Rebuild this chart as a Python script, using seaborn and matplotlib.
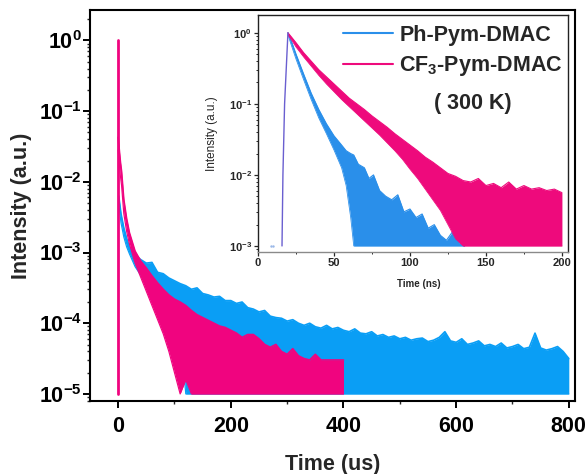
import numpy as np
import pandas as pd
import matplotlib
matplotlib.use("Agg")
import matplotlib.pyplot as plt
import seaborn as sns
from matplotlib.ticker import LogLocator, MultipleLocator, LogFormatterMathtext, NullFormatter

# ---------------- data (log10 intensity) ----------------
series_names = ["Ph-Pym-DMAC", "CF$_3$-Pym-DMAC"]

# main panel, time in us
blue_main_t = [1, 5, 10, 15, 20, 30, 40, 50, 60, 70, 80, 90, 100, 110, 120, 130, 140, 150,
               160, 170, 180, 190, 200, 210, 220, 230, 240, 250, 260, 270, 280, 290, 300,
               310, 320, 330, 340, 350, 360, 370, 380, 390, 400, 410, 420, 430, 440, 450,
               460, 470, 480, 490, 500, 510, 520, 530, 540, 550, 560, 570, 580, 590, 600,
               610, 620, 630, 640, 650, 660, 670, 680, 690, 700, 710, 720, 730, 740, 750,
               760, 770, 780, 790, 800]
blue_main_hi = [-2.20, -2.45, -2.65, -2.80, -2.92, -3.03, -3.10, -3.15, -3.14, -3.28, -3.30,
                -3.36, -3.40, -3.44, -3.47, -3.52, -3.50, -3.58, -3.60, -3.63, -3.62, -3.68,
                -3.68, -3.72, -3.70, -3.78, -3.80, -3.84, -3.82, -3.90, -3.92, -3.93, -3.97,
                -3.95, -4.00, -4.03, -4.00, -4.05, -4.07, -4.03, -4.08, -4.06, -4.10, -4.12,
                -4.08, -4.14, -4.15, -4.12, -4.18, -4.16, -4.20, -4.18, -4.22, -4.20, -4.24,
                -4.22, -4.21, -4.26, -4.24, -4.20, -4.12, -4.25, -4.27, -4.22, -4.30, -4.28,
                -4.25, -4.32, -4.30, -4.33, -4.28, -4.35, -4.33, -4.30, -4.36, -4.34, -4.14,
                -4.35, -4.38, -4.36, -4.33, -4.40, -4.50]
blue_main_lo = [-2.30, -2.58, -2.78, -2.92, -3.02, -3.20, -3.32, -3.45, -3.55, -3.65, -3.75,
                -3.85, -3.95, -4.10] + [-5.0] * 69

pink_main_t = [0, 2, 4, 6, 8, 10, 15, 20, 30, 40, 50, 60, 70, 80, 90, 100, 110, 120, 130,
               140, 150, 160, 170, 180, 190, 200, 210, 220, 230, 240, 250, 260, 270, 280,
               290, 300, 310, 320, 330, 340, 350, 360, 370, 380, 390, 400]
pink_main_hi = [-1.37, -1.55, -1.72, -1.85, -2.05, -2.25, -2.52, -2.72, -2.98, -3.12, -3.22,
                -3.33, -3.43, -3.52, -3.60, -3.66, -3.70, -3.75, -3.82, -3.88, -3.92, -3.96,
                -4.00, -4.04, -4.06, -4.10, -4.14, -4.20, -4.16, -4.16, -4.22, -4.30, -4.34,
                -4.30, -4.40, -4.44, -4.36, -4.46, -4.50, -4.52, -4.44, -4.52, -4.52, -4.52,
                -4.52, -4.52]
pink_main_lo = [-1.55, -1.75, -1.92, -2.05, -2.25, -2.45, -2.70, -2.88, -3.15, -3.35, -3.55,
                -3.75, -3.95, -4.15, -4.40, -4.70, -5.0, -4.80] + [-5.0] * 28
pink_spike_t = [0, 0]
pink_spike_v = [-5.0, 0.0]

# inset, time in ns
rise_t = [15.8, 16.4, 17.5, 19.7]
rise_v = [-3.0, -2.0, -1.0, 0.0]

blue_in_t = [19.7, 22, 25, 30, 35, 40, 45, 50, 55, 58, 61, 63, 66, 70, 73, 76, 80, 84, 88,
             92, 96, 100, 104, 108, 112, 116, 120, 124, 128, 132, 136]
blue_in_hi = [0.0, -0.12, -0.30, -0.58, -0.85, -1.08, -1.28, -1.45, -1.58, -1.66, -1.70,
              -1.72, -1.85, -1.90, -2.05, -2.00, -2.22, -2.30, -2.35, -2.28, -2.52, -2.48,
              -2.60, -2.55, -2.75, -2.70, -2.85, -2.92, -2.80, -2.95, -3.0]
blue_in_lo = [-0.03, -0.18, -0.37, -0.66, -0.94, -1.20, -1.42, -1.65, -1.90, -2.15, -2.60,
              -3.0] + [-3.0] * 19

pink_in_t = [19.7, 22, 25, 30, 35, 40, 45, 50, 55, 60, 65, 70, 75, 80, 85, 90, 95, 100, 105,
             110, 115, 120, 125, 130, 135, 140, 145, 150, 155, 160, 165, 170, 175, 180, 185,
             190, 195, 200]
pink_in_hi = [0.0, -0.06, -0.14, -0.28, -0.40, -0.52, -0.62, -0.72, -0.82, -0.92, -1.00,
              -1.08, -1.17, -1.25, -1.33, -1.42, -1.50, -1.58, -1.66, -1.75, -1.82, -1.90,
              -1.98, -2.02, -2.08, -2.10, -2.05, -2.15, -2.12, -2.18, -2.10, -2.20, -2.15,
              -2.20, -2.18, -2.22, -2.20, -2.25]
pink_in_lo = [-0.03, -0.10, -0.20, -0.34, -0.47, -0.60, -0.72, -0.83, -0.94, -1.04, -1.14,
              -1.24, -1.34, -1.44, -1.55, -1.66, -1.78, -1.92, -2.05, -2.20, -2.35, -2.50,
              -2.70, -2.90] + [-3.0] * 14
dots_t = [8.5, 10.0]
dots_v = [-3.0, -3.0]

# ---------------- style ----------------
sns.set_style("ticks")
plt.rcParams['font.family'] = ['Liberation Sans', 'DejaVu Sans']
plt.rcParams['font.weight'] = 'bold'
plt.rcParams['axes.labelweight'] = 'bold'
plt.rcParams['mathtext.fontset'] = 'custom'
plt.rcParams['mathtext.rm'] = 'Liberation Sans:bold'
plt.rcParams['mathtext.bf'] = 'Liberation Sans:bold'
plt.rcParams['mathtext.it'] = 'Liberation Sans:bold'
plt.rcParams['mathtext.sf'] = 'Liberation Sans:bold'

BLUE = '#0A9EF5'
PINK = '#F0047F'
BLUE_IN = '#2A8FEA'
PINK_IN = '#EE0A7C'

fig = plt.figure(figsize=(5.88, 4.74), dpi=100)
W, H = 588, 474
ax = fig.add_axes([90 / W, 1 - 401 / H, 485 / W, 391 / H])
axi = fig.add_axes([258 / W, 1 - 252 / H, 310 / W, 237 / H])


def tv(v):
    return np.power(10.0, np.asarray(v, dtype=float))


def draw(a, t, hi, lo, color, lw, z, label=None):
    a.fill_between(t, tv(lo), tv(hi), color=color, lw=0, zorder=z)
    sns.lineplot(x=t, y=tv(hi), ax=a, color=color, lw=lw, estimator=None, sort=False,
                 label=label, legend=bool(label), zorder=z + 0.1)
    sns.lineplot(x=t, y=tv(lo), ax=a, color=color, lw=lw * 0.7, estimator=None, sort=False,
                 legend=False, zorder=z + 0.1)


# main panel
draw(ax, blue_main_t, blue_main_hi, blue_main_lo, BLUE, 1.2, 1.0)
draw(ax, pink_main_t, pink_main_hi, pink_main_lo, PINK, 1.2, 1.5)
sns.lineplot(x=pink_spike_t, y=tv(pink_spike_v), ax=ax, color=PINK, lw=2.0, estimator=None,
             sort=False, legend=False, zorder=1.8)

ax.set_yscale('log')
ax.set_xlim(-50, 811)
ax.set_ylim(10 ** -5.1, 10 ** 0.43)
ax.xaxis.set_major_locator(MultipleLocator(200))
ax.xaxis.set_minor_locator(MultipleLocator(100))
ax.yaxis.set_major_locator(LogLocator(base=10, numticks=12))
ax.yaxis.set_minor_locator(LogLocator(base=10, subs=np.arange(2, 10), numticks=12))
ax.yaxis.set_major_formatter(LogFormatterMathtext())
ax.yaxis.set_minor_formatter(NullFormatter())
ax.tick_params(which='major', direction='out', length=5, width=1.4, labelsize=15.5, pad=1,
               colors='black')
ax.tick_params(which='minor', direction='out', length=2.5, width=1.0)
ax.tick_params(axis='x', which='major', pad=6)
for s in ax.spines.values():
    s.set_visible(True)
    s.set_linewidth(1.5)
    s.set_color('black')
ax.set_xlabel('Time (us)', fontsize=15.5, fontweight='bold')
ax.set_ylabel('Intensity (a.u.)', fontsize=15.5, fontweight='bold')
ax.xaxis.set_label_coords(0.5, -0.135)
ax.yaxis.set_label_coords(-0.12, 0.5)

# inset
draw(axi, blue_in_t, blue_in_hi, blue_in_lo, BLUE_IN, 0.8, 1.0, label=series_names[0])
draw(axi, pink_in_t, pink_in_hi, pink_in_lo, PINK_IN, 0.8, 1.5, label=series_names[1])
sns.lineplot(x=rise_t, y=tv(rise_v), ax=axi, color='#6A5FD0', lw=1.0, estimator=None,
             sort=False, legend=False, zorder=1.8)
sns.scatterplot(x=dots_t, y=tv(dots_v), ax=axi, color='#9AB8E8', s=3, linewidth=0,
                legend=False, zorder=1.8)

axi.set_yscale('log')
axi.set_xlim(0, 204)
axi.set_ylim(10 ** -3.085, 10 ** 0.25)
axi.xaxis.set_major_locator(MultipleLocator(50))
axi.xaxis.set_minor_locator(MultipleLocator(25))
axi.yaxis.set_major_locator(LogLocator(base=10, numticks=8))
axi.yaxis.set_minor_locator(LogLocator(base=10, subs=np.arange(2, 10), numticks=8))
axi.yaxis.set_major_formatter(LogFormatterMathtext())
axi.yaxis.set_minor_formatter(NullFormatter())
axi.tick_params(which='major', direction='out', length=3, width=0.9, labelsize=8, pad=1.5)
axi.tick_params(which='minor', direction='out', length=1.6, width=0.7)
for s in axi.spines.values():
    s.set_visible(True)
    s.set_linewidth(1.0)
    s.set_color('#222222')
axi.spines['bottom'].set_color('#8A8A8A')
axi.set_xlabel('Time (ns)', fontsize=7, fontweight='bold')
axi.set_ylabel('Intensity (a.u.)', fontsize=8.5, fontweight='normal')
axi.xaxis.set_label_coords(0.52, -0.115)
axi.yaxis.set_label_coords(-0.128, 0.5)

leg = axi.legend(loc='upper left', bbox_to_anchor=(343 / W, 1 - 25 / H),
                 bbox_transform=fig.transFigure, frameon=False, fontsize=15.5,
                 handlelength=2.3, handletextpad=0.32, labelspacing=0.38, borderpad=0,
                 borderaxespad=0)
for line in leg.get_lines():
    line.set_linewidth(1.5)
fig.text(473 / W, 1 - 103 / H, '( 300 K)', ha='center', va='center', fontsize=15.5,
         fontweight='bold')

fig.savefig('out.png', dpi=100)
